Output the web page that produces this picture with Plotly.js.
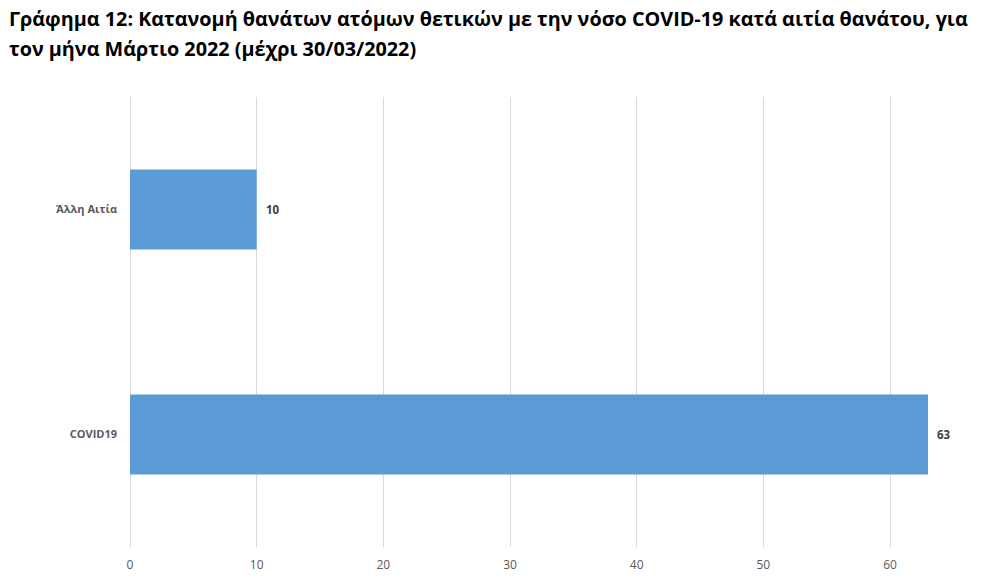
<!DOCTYPE html>
<html><head><meta charset="utf-8">
<script src="https://cdn.plot.ly/plotly-3.0.1.min.js"></script>
<style>body{margin:0;background:#fff}#chart{width:991px;height:586px}</style>
</head><body><div id="chart"></div>
<script>
const categories = ["COVID19", "Άλλη Αιτία"];
const deaths = [63, 10];
const xTicks = [0, 10, 20, 30, 40, 50, 60];
const titleLines = [
  "Γράφημα 12: Κατανομή θανάτων ατόμων θετικών με την νόσο COVID-19 κατά αιτία θανάτου, για",
  "τον μήνα Μάρτιο 2022 (μέχρι 30/03/2022)"
];

const trace = {
  type: 'bar', orientation: 'h',
  y: categories, x: deaths,
  marker: {color: '#5b9bd5'},
  hoverinfo: 'none'
};
const valueLabels = deaths.map((v, i) => ({
  x: v, y: categories[i], xref: 'x', yref: 'y',
  text: '<b>' + v + '</b>', showarrow: false,
  xanchor: 'left', xshift: 7,
  font: {family: 'Open Sans, sans-serif', size: 11.5, color: '#404040'}
}));
const titleAnns = titleLines.map((t, i) => ({
  text: '<b>' + t + '</b>',
  xref: 'paper', yref: 'paper', x: -123/817, y: (450 + 97 - 18 - 30 * i) / 450,
  xanchor: 'left', yanchor: 'middle', align: 'left', showarrow: false,
  font: {family: 'Open Sans, sans-serif', size: 19.8, color: '#000'}
}));
const layout = {
  width: 991, height: 586,
  margin: {l: 130, r: 44, t: 97, b: 39},
  paper_bgcolor: '#fff', plot_bgcolor: '#fff',
  font: {family: 'Open Sans, sans-serif', color: '#595959'},
  bargap: 0.644,
  showlegend: false,
  annotations: titleAnns.concat(valueLabels),
  xaxis: {
    range: [0, 64.5], tickvals: xTicks, ticktext: xTicks.map(String),
    color: '#595959',
    showgrid: true, gridcolor: '#d9d9d9', gridwidth: 1,
    zeroline: true, zerolinecolor: '#d9d9d9', zerolinewidth: 1,
    showline: false, ticks: '', ticklabelstandoff: 9,
    tickfont: {family: 'Open Sans, sans-serif', size: 12, color: '#595959'},
    fixedrange: true
  },
  yaxis: {
    color: '#595959',
    showgrid: false, zeroline: false, showline: false, ticks: '',
    ticklabelstandoff: 12,
    tickfont: {family: 'Open Sans, sans-serif', size: 11, color: '#595959', weight: 'bold'},
    fixedrange: true
  }
};
Plotly.newPlot('chart', [trace], layout, {displayModeBar: false, staticPlot: true});
</script></body></html>
